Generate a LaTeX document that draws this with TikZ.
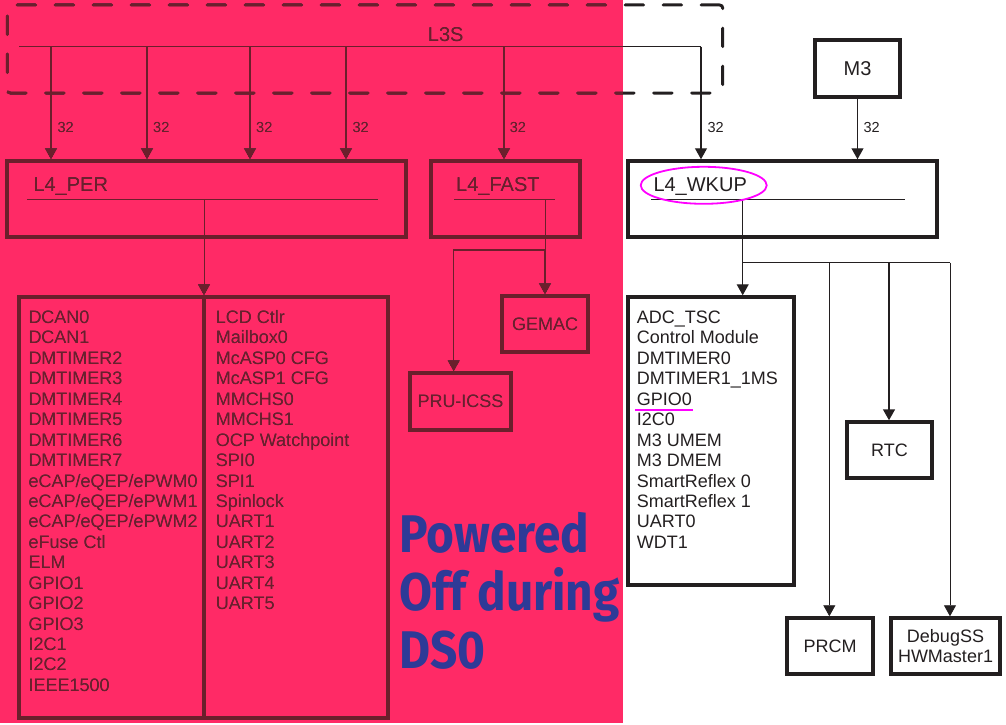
\documentclass[tikz,border=0pt]{standalone}
\usepackage{fontspec}
\setmainfont{Liberation Sans}
\newfontfamily\pwfont[FakeStretch=0.9]{Fira Sans}
\usetikzlibrary{arrows.meta,shapes.geometric}
\definecolor{pinkbg}{RGB}{255,42,102}
\definecolor{maroon}{RGB}{107,10,44}
\definecolor{ink}{RGB}{35,31,32}
\definecolor{dsblue}{RGB}{46,58,151}
\definecolor{hilite}{RGB}{255,0,255}
\begin{document}
\begin{tikzpicture}[x=1pt,y=-1pt,
  box/.style={draw=ink, line width=3.5pt, inner sep=0pt, rectangle, text=ink,
    font=\fontsize{18}{20.4}\selectfont, align=center},
  wire/.style={draw=ink, line width=1.2pt},
  thinwire/.style={draw=ink, line width=0.9pt},
  arr/.style={wire, -{Triangle[width=12pt,length=11pt]}},
  thinarr/.style={thinwire, -{Triangle[width=12pt,length=11pt]}},
  item/.style={inner sep=0pt, anchor=base west, text=ink, font=\fontsize{18}{20}\selectfont},
  title/.style={inner sep=0pt, anchor=base west, text=ink, font=\fontsize{20}{22}\selectfont},
  num/.style={inner sep=0pt, anchor=base west, text=ink, font=\fontsize{14.5}{16}\selectfont},
  groupbox/.style={draw=ink, line width=3pt, dash pattern=on 18.5pt off 19.5pt, line cap=round,
    rounded corners=3pt, inner sep=0pt, rectangle}
]
\useasboundingbox (0,0) rectangle (1006,725);
% powered-off region
\fill[pinkbg] (0,0) rectangle (622.7,722.7);

% L3S interconnect
\node[groupbox, minimum width=715.4, minimum height=88] (l3s) at (365,49) {};
\node[title] (l3st) at (427.7,41.7) {L3S};
\coordinate (busL) at (19,46.7);
\coordinate (busR) at (701,46.7);
\draw[wire] (busL) -- (busR);
\coordinate (tapa) at (51,46.7);
\coordinate (tapb) at (147,46.7);
\coordinate (tapc) at (250,46.7);
\coordinate (tapd) at (346,46.7);
\coordinate (tape) at (504,46.7);

% L4 interconnects
\node[box, minimum width=399, minimum height=76] (l4per) at (206.5,199) {};
\node[box, minimum width=149, minimum height=76] (l4fast) at (505.5,199) {};
\node[box, minimum width=309, minimum height=76] (l4wkup) at (782.5,199) {};
\node[box, minimum width=85, minimum height=57] (m3) at (857.5,68.5) {\fontsize{20}{22}\selectfont M3};

\node[title] (l4pert) at (33.3,191) {L4\_PER};
\node[title] (l4fastt) at (456,191) {L4\_FAST};
\node[title] (l4wkupt) at (653.3,191) {L4\_WKUP};

\coordinate (ua1) at (27,199.5);  \coordinate (ua2) at (378,199.5);
\coordinate (ub1) at (454,199.5); \coordinate (ub2) at (554.7,199.5);
\coordinate (uc1) at (651,199.5); \coordinate (uc2) at (905,199.5);
\draw[thinwire] (ua1) -- (ua2);
\draw[thinwire] (ub1) -- (ub2);
\draw[thinwire] (uc1) -- (uc2);

% bus arrows
\draw[arr] (tapa) -- (tapa |- l4per.north);
\draw[arr] (tapb) -- (tapb |- l4per.north);
\draw[arr] (tapc) -- (tapc |- l4per.north);
\draw[arr] (tapd) -- (tapd |- l4per.north);
\draw[arr] (tape) -- (tape |- l4fast.north);
\draw[arr] (busR) -- (busR |- l4wkup.north);
\draw[arr] (m3.south) -- (m3.south |- l4wkup.north);
\node[num] (na) at (57.3,132.3) {32};
\node[num] (nb) at (153,132.3) {32};
\node[num] (nc) at (256,132.3) {32};
\node[num] (nd) at (352.3,132.3) {32};
\node[num] (ne) at (509.7,132.3) {32};
\node[num] (nf) at (707.3,132.3) {32};
\node[num] (ng) at (863.3,132.3) {32};

% L4_PER peripherals
\node[box, minimum width=185, minimum height=421] (pera) at (111.5,507.5) {};
\node[box, minimum width=184, minimum height=421] (perb) at (296,507.5) {};
\coordinate (pdrop) at (204,199.5);
\draw[thinarr] (pdrop) -- (pdrop |- pera.north);
\foreach \t [count=\i] in {DCAN0,DCAN1,DMTIMER2,DMTIMER3,DMTIMER4,DMTIMER5,DMTIMER6,DMTIMER7,
  eCAP/eQEP/ePWM0,eCAP/eQEP/ePWM1,eCAP/eQEP/ePWM2,eFuse Ctl,ELM,GPIO1,GPIO2,GPIO3,I2C1,I2C2,IEEE1500}
  \node[item] (pa\i) at (28.3,{323.5+(\i-1)*20.44}) {\t};
\foreach \t [count=\i] in {LCD Ctlr,Mailbox0,McASP0 CFG,McASP1 CFG,MMCHS0,MMCHS1,OCP Watchpoint,
  SPI0,SPI1,Spinlock,UART1,UART2,UART3,UART4,UART5}
  \node[item] (pb\i) at (215.7,{323.5+(\i-1)*20.44}) {\t};

% L4_FAST peripherals
\node[box, minimum width=86, minimum height=56] (gemac) at (545,324) {GEMAC};
\node[box, minimum width=101, minimum height=57] (pru) at (460.5,401.5) {PRU-ICSS};
\coordinate (fdrop) at (545,199.5);
\coordinate (fj) at (545,250);
\coordinate (fl) at (453.7,250);
\draw[thinwire] (fdrop) -- (fj);
\draw[arr] (fj) -- (fj |- gemac.north);
\draw[arr] (fj) -- (fl) -- (fl |- pru.north);

% L4_WKUP peripherals
\node[box, minimum width=166, minimum height=288] (adc) at (711,441) {};
\foreach \t [count=\i] in {ADC\_TSC,Control Module,DMTIMER0,DMTIMER1\_1MS,GPIO0,I2C0,M3 UMEM,M3 DMEM,
  SmartReflex 0,SmartReflex 1,UART0,WDT1}
  \node[item] (wa\i) at (636.7,{323.5+(\i-1)*20.44}) {\t};
\node[box, minimum width=85, minimum height=56] (rtc) at (889.5,450) {RTC};
\node[box, minimum width=86, minimum height=56] (prcm) at (830,646) {PRCM};
\node[box, minimum width=109, minimum height=56] (dbg) at (945.5,646) {DebugSS\\HWMaster1};
\coordinate (wdrop) at (742.7,199.5);
\coordinate (wj) at (742.7,262.7);
\coordinate (wprcm) at (829.3,262.7);
\coordinate (wrtc) at (889,262.7);
\coordinate (wr) at (950,262.7);
\draw[thinwire] (wdrop) -- (wj) -- (wr);
\draw[arr] (wj) -- (wj |- adc.north);
\draw[thinarr] (wprcm) -- (wprcm |- prcm.north);
\draw[arr, line width=1.6pt] (wrtc) -- (wrtc |- rtc.north);
\draw[thinarr] (wr) -- (wr |- dbg.north);

% tint of the powered-off region
\begin{scope}[blend mode=lighten]
\fill[maroon] (0,0) rectangle (622.7,722.7);
\end{scope}

% annotations
\node[ellipse, draw=hilite, line width=1.8pt, minimum width=126, minimum height=37, inner sep=0pt] (wkupmark) at (703.7,185.3) {};
\coordinate (g1) at (635,410); \coordinate (g2) at (693,410);
\draw[hilite, line width=2pt] (g1) -- (g2);
\node[anchor=base west, inner sep=0pt, align=left, text=dsblue,
  font=\pwfont\bfseries\fontsize{53}{58}\selectfont] (ds0) at (399,668) {Powered\\Off during\\DS0};
\end{tikzpicture}
\end{document}
